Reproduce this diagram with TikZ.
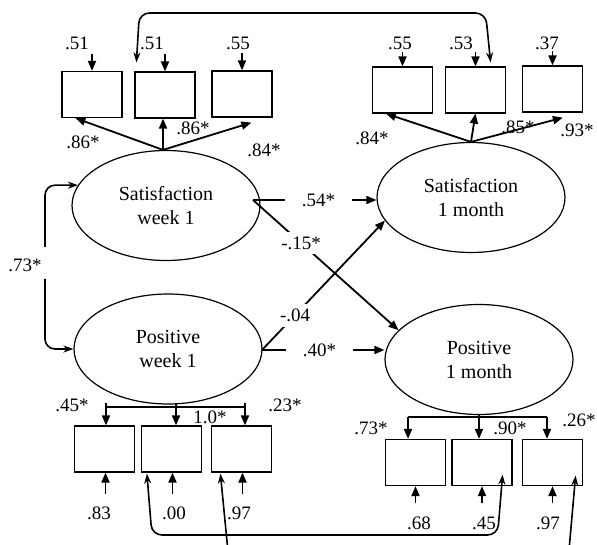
\documentclass[tikz,border=0pt]{standalone}
\usepackage{fontspec}
\setmainfont{Liberation Serif}
\usetikzlibrary{arrows.meta,shapes.geometric}

\begin{document}
\begin{tikzpicture}[
    x=1pt, y=-1pt,
    % Style for the latent variables
    latentNode/.style={
        ellipse,
        draw=black,
        line width=1.2pt,
        minimum width=188pt,
        minimum height=110pt,
        inner sep=0pt,
        align=center,
        font=\fontsize{20}{24}\selectfont
    },
    % Style for the indicator boxes
    itemBox/.style={
        rectangle,
        draw=black,
        line width=1.2pt,
        minimum width=60pt,
        minimum height=46pt,
        inner sep=0pt
    },
    % Style for the numbers
    numLabel/.style={
        font=\fontsize{19}{22}\selectfont,
        inner sep=1pt
    },
    % Style for the coefficients sitting on a path
    coefLabel/.style={numLabel, fill=white, inner xsep=17pt, inner ysep=4pt},
    coefDiag/.style={numLabel, fill=white, inner sep=5pt},
    % Style for the plain lines
    edgeLine/.style={
        draw=black,
        line width=1.2pt
    },
    % Style for the straight arrows
    pathArrow/.style={
        draw=black,
        line width=1.8pt,
        -{Triangle[length=10pt,width=8pt]}
    },
    % Style for the curved arrows
    curveArrow/.style={
        draw=black,
        line width=1.6pt,
        -{Stealth[length=10pt,width=7pt]},
        rounded corners=10pt
    },
    dblArrow/.style={
        curveArrow,
        {Stealth[length=10pt,width=7pt]}-{Stealth[length=10pt,width=7pt]}
    }
]

    \useasboundingbox (0,0) rectangle (597,545);

    % --- LATENT VARIABLES ---
    \node[latentNode] (sw1) at (166,205.5) {Satisfaction\\week 1};
    \node[latentNode] (sm1) at (471,197.5) {Satisfaction\\1 month};
    \node[latentNode] (pw1) at (168,349) {Positive\\week 1};
    \node[latentNode] (pm1) at (479,359.5) {Positive\\1 month};

    % --- SATISFACTION WEEK 1 ITEMS ---
    \foreach \n/\x/\y/\v/\lx in {sl1/92/94.5/.51/77, sl2/165/95/.51/152, sl3/242/94/.55/238} {
        \node[itemBox] (\n) at (\x,\y) {};
        \node[numLabel] (e\n) at (\lx,43) {\v};
        \draw[pathArrow] ([yshift=17pt]\n.north) -- (\n.north);
    }
    \draw[pathArrow] ([xshift=-3pt]sw1.north) -- ([xshift=14pt]sl1.south west);
    \draw[pathArrow] ([xshift=-3pt]sw1.north) -- ([xshift=-2pt]sl2.south);
    \draw[pathArrow] ([xshift=-3pt]sw1.north) -- ([shift={(40,5)}]sl3.south west);
    \node[numLabel] (lsl1) at (83,142) {.86*};
    \node[numLabel] (lsl2) at (193,128) {.86*};
    \node[numLabel] (lsl3) at (264,150) {.84*};

    % --- SATISFACTION 1 MONTH ITEMS ---
    \foreach \n/\x/\y/\v/\lx in {sr1/402.5/90/.55/400, sr2/475.5/90/.53/461, sr3/552.5/89/.37/547} {
        \node[itemBox] (\n) at (\x,\y) {};
        \node[numLabel] (e\n) at (\lx,43) {\v};
        \draw[pathArrow] ([yshift=14pt]\n.north) -- (\n.north);
    }
    \draw[pathArrow] (sm1.north) -- ([xshift=14pt]sr1.south west);
    \draw[pathArrow] (sm1.north) -- (sr2.south);
    \draw[pathArrow] (sm1.north) -- ([shift={(41,5)}]sr3.south west);
    \node[numLabel] (lsr1) at (372,138) {.84*};
    \node[numLabel] (lsr2) at (518,127) {.85*};
    \node[numLabel] (lsr3) at (577,130) {.93*};

    % --- POSITIVE WEEK 1 ITEMS ---
    \foreach \n/\x/\v/\lx in {pl1/104.5/.83/99, pl2/171.5/.00/174, pl3/241.5/.97/239} {
        \node[itemBox] (\n) at (\x,449) {};
        \node[numLabel] (e\n) at (\lx,513) {\v};
        \draw[pathArrow] ([shift={(1,21)}]\n.south) -- ([xshift=1pt]\n.south);
    }
    \coordinate (fl1) at (106,403);
    \coordinate (fl2) at (176,403);
    \coordinate (fl3) at (245,403);
    \draw[edgeLine] ([yshift=-4pt]fl1) -- ([yshift=-4pt]fl3);
    \foreach \i/\b in {1/pl1, 2/pl2, 3/pl3}
        \draw[pathArrow] (fl\i) -- (fl\i |- \b.north);
    \node[numLabel] (lpl1) at (72,405) {.45*};
    \node[numLabel] (lpl2) at (210,417) {1.0*};
    \node[numLabel] (lpl3) at (285,405) {.23*};

    % --- POSITIVE 1 MONTH ITEMS ---
    \foreach \n/\x/\v/\lx in {pr1/415.5/.68/419, pr2/482/.45/484, pr3/552.5/.97/548} {
        \node[itemBox] (\n) at (\x,462.5) {};
        \node[numLabel] (e\n) at (\lx,523) {\v};
        \draw[pathArrow] ([yshift=-17pt]\n.south) -- (\n.south);
    }
    \coordinate (fr1) at (408,417);
    \coordinate (fr2) at (479,414);
    \coordinate (fr3) at (547,417);
    \draw[edgeLine] (fr1) -- (fr3);
    \foreach \i/\b in {1/pr1, 2/pr2, 3/pr3}
        \draw[pathArrow] (fr\i) -- (fr\i |- \b.north);
    \node[numLabel] (lpr1) at (371,428) {.73*};
    \node[numLabel] (lpr2) at (510,428) {.90*};
    \node[numLabel] (lpr3) at (579,420) {.26*};

    % --- STRUCTURAL PATHS ---
    \coordinate (sfrom) at (253,200);
    \coordinate (pfrom) at (262,350);
    \draw[pathArrow] (sfrom) -- node[coefLabel, pos=0.53] (c54) {.54*} (sfrom -| sm1.west);
    \draw[pathArrow] (sfrom) -- node[coefDiag, pos=0.33] (c15) {-.15*} (pm1.160);
    \draw[pathArrow] (pfrom) -- node[coefDiag, pos=0.27] (c04) {-.04} (sm1.195);
    \draw[pathArrow] (pfrom) -- node[coefLabel, pos=0.47] (c40) {.40*} (pfrom -| pm1.west);

    % --- CORRELATION WEEK 1 ---
    \node[numLabel] (r73) at (25,265) {.73*};
    \coordinate (c73t) at (45,247);
    \coordinate (c73b) at (45,279);
    \draw[curveArrow] (c73t) |- (sw1.167);
    \draw[curveArrow] (c73b) |- (pw1.west);

    % --- CORRELATED ERRORS ---
    \coordinate (tl) at ([shift={(2,-9)}]sl2.north west);
    \coordinate (tr) at ([shift={(-15.5,-4)}]sr2.north east);
    \coordinate (topbar) at (300,13);
    \draw[dblArrow] (tl) -- ([xshift=3pt]tl |- topbar) -- ([xshift=-5pt]tr |- topbar) -- (tr);

    \coordinate (b1l) at ([shift={(6,1)}]pl2.south west);
    \coordinate (b1r) at ([shift={(-10,-11.5)}]pr2.south east);
    \coordinate (bar1) at (300,535);
    \draw[dblArrow] (b1l) -- ([xshift=5pt]b1l |- bar1) -- ([xshift=-5pt]b1r |- bar1) -- (b1r);

    \coordinate (b2l) at ([shift={(9.5,1)}]pl3.south west);
    \coordinate (b2r) at ([shift={(-7.5,-10.5)}]pr3.south east);
    \coordinate (bar2) at (300,566);
    \draw[dblArrow] (b2l) -- ([xshift=9pt]b2l |- bar2) -- ([xshift=-8pt]b2r |- bar2) -- (b2r);

\end{tikzpicture}
\end{document}
